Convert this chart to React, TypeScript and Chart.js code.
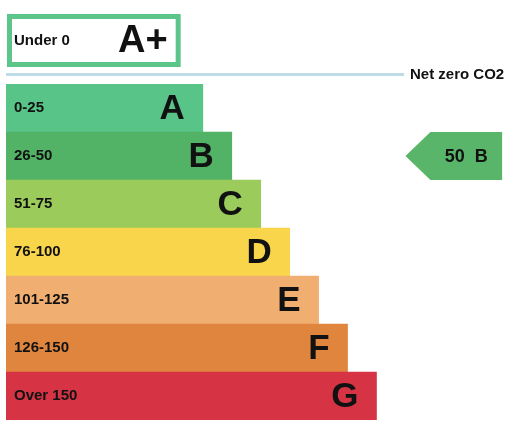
import React, { useEffect, useRef } from "react";
import { Chart, registerables } from "chart.js";

Chart.register(...registerables);

// ---- data ----
const bands = ["A", "B", "C", "D", "E", "F", "G"];
const ranges = ["0-25", "26-50", "51-75", "76-100", "101-125", "126-150", "Over 150"];
const barLengths = [68, 78, 88, 98, 108, 118, 128];
const bandColors = ["#58c487", "#52b265", "#9acb5b", "#f8d54b", "#f0ae71", "#e0853d", "#d63445"];
const topBand = "A+";
const topRange = "Under 0";
const topBandLength = 60;
const netZeroLabel = "Net zero CO2";
const netZeroLength = 137.5;
const currentScore = 50;
const currentBand = "B";
const arrowRange = [138, 171.4];

const FONT = "'Liberation Sans', Arial, Helvetica, sans-serif";

const overlayPlugin = {
  id: "epcOverlay",
  afterDatasetsDraw(chart: any) {
    const ctx = chart.ctx;
    const x = chart.scales.x;
    const y = chart.scales.y;
    const area = chart.chartArea;
    const rowH = y.getPixelForValue(1) - y.getPixelForValue(0);
    ctx.save();

    // band labels
    bands.forEach((b, i) => {
      const cy = y.getPixelForValue(i);
      const x0 = x.getPixelForValue(0);
      const x1 = x.getPixelForValue(barLengths[i]);
      ctx.fillStyle = "#111";
      ctx.textBaseline = "middle";
      ctx.textAlign = "left";
      ctx.font = `bold 15px ${FONT}`;
      ctx.fillText(ranges[i], x0 + 8, cy);
      ctx.textAlign = "right";
      ctx.font = `bold 35px ${FONT}`;
      ctx.fillText(b, x1 - 18, cy + 1);
    });

    // A+ box
    const bx0 = x.getPixelForValue(0) + 1;
    const bx1 = x.getPixelForValue(topBandLength) + 1;
    const by0 = area.top - 70;
    const by1 = area.top - 17;
    ctx.strokeStyle = "#5cc58a";
    ctx.lineWidth = 5;
    ctx.strokeRect(bx0 + 2.5, by0 + 2.5, bx1 - bx0 - 5, by1 - by0 - 5);
    const bcy = (by0 + by1) / 2;
    ctx.fillStyle = "#111";
    ctx.textBaseline = "middle";
    ctx.textAlign = "left";
    ctx.font = `bold 15px ${FONT}`;
    ctx.fillText(topRange, bx0 + 7, bcy);
    ctx.textAlign = "right";
    ctx.font = `bold 38px ${FONT}`;
    ctx.fillText(topBand, bx1 - 13, bcy + 1);

    // net zero line
    const ly = area.top - 9.5;
    ctx.strokeStyle = "#bddbe9";
    ctx.lineWidth = 3;
    ctx.beginPath();
    ctx.moveTo(x.getPixelForValue(0), ly);
    ctx.lineTo(x.getPixelForValue(netZeroLength), ly);
    ctx.stroke();
    ctx.fillStyle = "#111";
    ctx.textAlign = "left";
    ctx.font = `bold 15px ${FONT}`;
    ctx.fillText(netZeroLabel, x.getPixelForValue(netZeroLength) + 6, ly);

    // current rating arrow
    const bi = bands.indexOf(currentBand);
    const acy = y.getPixelForValue(bi);
    const top = acy - rowH / 2;
    const bot = acy + rowH / 2;
    const ax0 = x.getPixelForValue(arrowRange[0]);
    const ax1 = x.getPixelForValue(arrowRange[1]);
    const head = rowH / 2 + 1;
    ctx.fillStyle = "#58b56a";
    ctx.beginPath();
    ctx.moveTo(ax0, acy);
    ctx.lineTo(ax0 + head, top);
    ctx.lineTo(ax1, top);
    ctx.lineTo(ax1, bot);
    ctx.lineTo(ax0 + head, bot);
    ctx.closePath();
    ctx.fill();
    ctx.fillStyle = "#111";
    ctx.textAlign = "center";
    ctx.textBaseline = "middle";
    ctx.font = `bold 18px ${FONT}`;
    ctx.fillText(`${currentScore}  ${currentBand}`, (ax0 + head + ax1) / 2, acy + 1);

    ctx.restore();
  },
};

export default function App() {
  const ref = useRef<HTMLCanvasElement>(null);
  useEffect(() => {
    document.body.style.margin = "0";
    const chart = new Chart(ref.current as HTMLCanvasElement, {
      type: "bar",
      data: {
        labels: bands,
        datasets: [
          {
            data: barLengths,
            backgroundColor: bandColors,
            borderWidth: 0,
            barPercentage: 1,
            categoryPercentage: 1,
          },
        ],
      },
      options: {
        indexAxis: "y",
        responsive: false,
        animation: false,
        layout: { padding: { left: 6, right: 0, top: 84, bottom: 17 } },
        plugins: { legend: { display: false }, tooltip: { enabled: false } },
        scales: {
          x: { type: "linear", min: 0, max: 180, display: false },
          y: { type: "category", display: false, offset: true },
        },
      },
      plugins: [overlayPlugin],
    } as any);
    return () => chart.destroy();
  }, []);
  return (
    <div style={{ position: "absolute", left: 0, top: 0, width: 527, height: 437 }}>
      <canvas ref={ref} width={527} height={437} style={{ display: "block" }} />
    </div>
  );
}
